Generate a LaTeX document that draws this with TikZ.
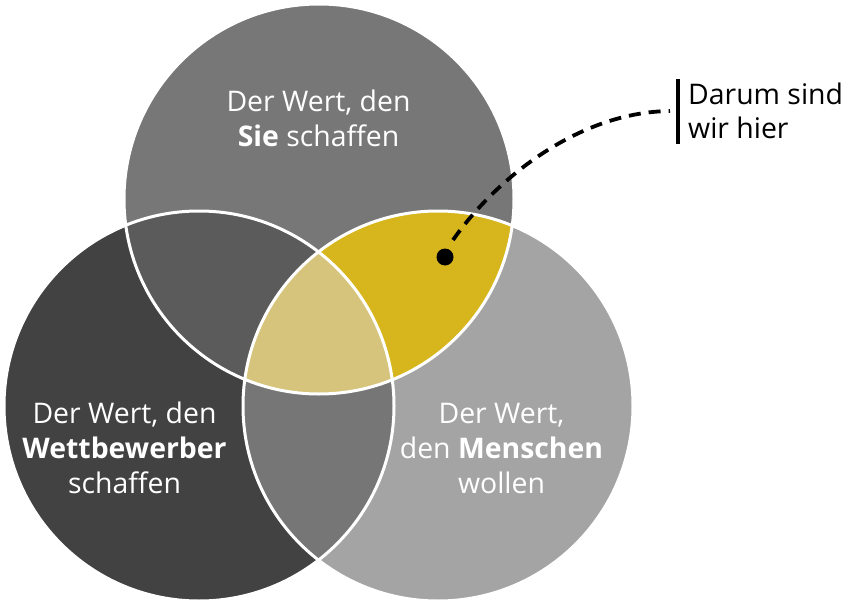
\documentclass[tikz,border=0pt]{standalone}
\usepackage{fontspec}
\setmainfont{Open Sans}
\definecolor{ctop}{HTML}{777777}
\definecolor{cleft}{HTML}{424242}
\definecolor{cright}{HTML}{A4A4A4}
\definecolor{ctl}{HTML}{5B5B5B}
\definecolor{clr}{HTML}{767676}
\definecolor{ctr}{HTML}{D7B51C}
\definecolor{cmid}{HTML}{D6C47C}
\tikzset{
  lbl/.style={text=white, align=center, anchor=base, inner sep=0pt, font=\fontsize{28.4}{35}\selectfont},
  rim/.style={draw=white, line width=3pt},
}
\begin{document}
\begin{tikzpicture}[x=1pt,y=-1pt]
\useasboundingbox (0,0) rectangle (844,605);
\def\R{195}
\coordinate (T) at (319,199);
\coordinate (L) at (199,406);
\coordinate (Rr) at (438,406);
% base circles
\fill[ctop] (T) circle (\R);
\fill[cleft] (L) circle (\R);
\fill[cright] (Rr) circle (\R);
% pairwise intersections
\begin{scope}\clip (T) circle (\R); \fill[ctl] (L) circle (\R); \end{scope}
\begin{scope}\clip (T) circle (\R); \fill[ctr] (Rr) circle (\R); \end{scope}
\begin{scope}\clip (L) circle (\R); \fill[clr] (Rr) circle (\R); \end{scope}
\begin{scope}\clip (T) circle (\R); \clip (L) circle (\R); \fill[cmid] (Rr) circle (\R); \end{scope}
% white rims
\draw[rim] (T) circle (\R);
\draw[rim] (L) circle (\R);
\draw[rim] (Rr) circle (\R);
% labels (base anchor = last line baseline)
\node[lbl] (tlabel) at (318.5,146) {Der Wert, den\\\textbf{Sie} schaffen};
\node[lbl] (llabel) at (124.5,493) {Der Wert, den\\\textbf{Wettbewerber}\\schaffen};
\node[lbl] (rlabel) at (501.5,493) {Der Wert,\\den \textbf{Menschen}\\wollen};
% callout
\node[circle, fill=black, inner sep=0pt, minimum size=17pt] (dot) at (445,257) {};
\node[anchor=base west, inner sep=0pt, align=left, font=\fontsize{28.4}{34}\selectfont] (here) at (688,138) {Darum sind\\wir hier};
\coordinate (bartop) at (678,79);
\coordinate (barbot) at (678,144);
\draw[line width=3.3pt] (bartop) -- (barbot);
\coordinate (dstart) at (453,240);
\coordinate (dend) at (670,111);
\draw[line width=3.8pt, dash pattern=on 12pt off 8pt] (dstart) .. controls (497,177) and (580,112) .. (dend);
\end{tikzpicture}
\end{document}
